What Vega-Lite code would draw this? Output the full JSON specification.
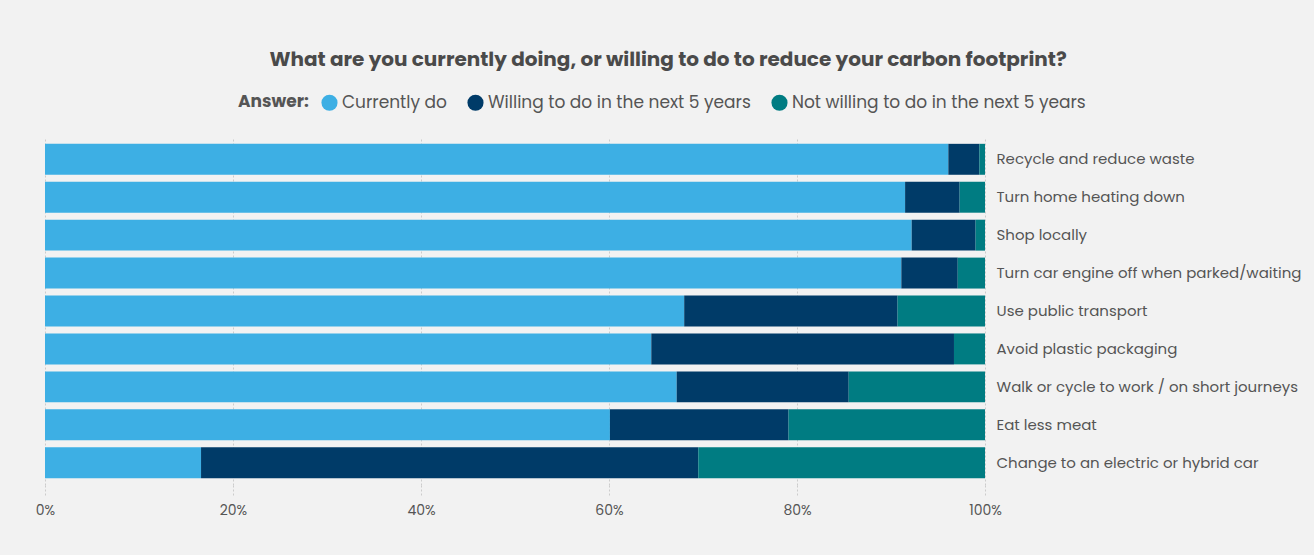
{
  "$schema": "https://vega.github.io/schema/vega-lite/v6.json",
  "autosize": {"type": "none"},
  "width": 940,
  "height": 348,
  "padding": {"left": 45, "top": 137, "right": 329, "bottom": 70},
  "background": "#f2f2f2",
  "title": {
    "text": "What are you currently doing, or willing to do to reduce your carbon footprint?",
    "anchor": "middle",
    "frame": "bounds",
    "font": "Poppins, Inter, sans-serif",
    "fontSize": 20,
    "fontWeight": "bold",
    "color": "#4a4a4a",
    "offset": 24
  },
  "data": {
    "values": [
      {"item": "Recycle and reduce waste", "answer": "Currently do", "o": 1, "value": 96.1},
      {"item": "Recycle and reduce waste", "answer": "Willing to do in the next 5 years", "o": 2, "value": 3.3},
      {"item": "Recycle and reduce waste", "answer": "Not willing to do in the next 5 years", "o": 3, "value": 0.6},
      {"item": "Turn home heating down", "answer": "Currently do", "o": 1, "value": 91.5},
      {"item": "Turn home heating down", "answer": "Willing to do in the next 5 years", "o": 2, "value": 5.8},
      {"item": "Turn home heating down", "answer": "Not willing to do in the next 5 years", "o": 3, "value": 2.7},
      {"item": "Shop locally", "answer": "Currently do", "o": 1, "value": 92.2},
      {"item": "Shop locally", "answer": "Willing to do in the next 5 years", "o": 2, "value": 6.8},
      {"item": "Shop locally", "answer": "Not willing to do in the next 5 years", "o": 3, "value": 1.0},
      {"item": "Turn car engine off when parked/waiting", "answer": "Currently do", "o": 1, "value": 91.1},
      {"item": "Turn car engine off when parked/waiting", "answer": "Willing to do in the next 5 years", "o": 2, "value": 6.0},
      {"item": "Turn car engine off when parked/waiting", "answer": "Not willing to do in the next 5 years", "o": 3, "value": 2.9},
      {"item": "Use public transport", "answer": "Currently do", "o": 1, "value": 68.0},
      {"item": "Use public transport", "answer": "Willing to do in the next 5 years", "o": 2, "value": 22.7},
      {"item": "Use public transport", "answer": "Not willing to do in the next 5 years", "o": 3, "value": 9.3},
      {"item": "Avoid plastic packaging", "answer": "Currently do", "o": 1, "value": 64.5},
      {"item": "Avoid plastic packaging", "answer": "Willing to do in the next 5 years", "o": 2, "value": 32.2},
      {"item": "Avoid plastic packaging", "answer": "Not willing to do in the next 5 years", "o": 3, "value": 3.3},
      {"item": "Walk or cycle to work / on short journeys", "answer": "Currently do", "o": 1, "value": 67.2},
      {"item": "Walk or cycle to work / on short journeys", "answer": "Willing to do in the next 5 years", "o": 2, "value": 18.3},
      {"item": "Walk or cycle to work / on short journeys", "answer": "Not willing to do in the next 5 years", "o": 3, "value": 14.5},
      {"item": "Eat less meat", "answer": "Currently do", "o": 1, "value": 60.1},
      {"item": "Eat less meat", "answer": "Willing to do in the next 5 years", "o": 2, "value": 19.0},
      {"item": "Eat less meat", "answer": "Not willing to do in the next 5 years", "o": 3, "value": 20.9},
      {"item": "Change to an electric or hybrid car", "answer": "Currently do", "o": 1, "value": 16.6},
      {"item": "Change to an electric or hybrid car", "answer": "Willing to do in the next 5 years", "o": 2, "value": 52.9},
      {"item": "Change to an electric or hybrid car", "answer": "Not willing to do in the next 5 years", "o": 3, "value": 30.5}
    ]
  },
  "mark": {"type": "bar"},
  "encoding": {
    "y": {
      "field": "item",
      "type": "nominal",
      "sort": null,
      "scale": {"paddingInner": 0.184, "paddingOuter": 0.18},
      "axis": {
        "orient": "right",
        "title": null,
        "domain": false,
        "ticks": false,
        "labelPadding": 11,
        "labelFont": "Poppins, Inter, sans-serif",
        "labelFontSize": 15,
        "labelColor": "#555555",
        "labelLimit": 400
      }
    },
    "x": {
      "field": "value",
      "type": "quantitative",
      "stack": "normalize",
      "scale": {"domain": [0, 1]},
      "axis": {
        "title": null,
        "format": ".0%",
        "values": [0, 0.2, 0.4, 0.6, 0.8, 1],
        "domain": false,
        "grid": true,
        "gridColor": "#cccccc",
        "gridDash": [2, 2],
        "gridWidth": 1,
        "ticks": true,
        "tickSize": 10,
        "tickColor": "#cccccc",
        "tickDash": [2, 2],
        "labelFlush": false,
        "labelPadding": 8,
        "labelFont": "Poppins, Inter, sans-serif",
        "labelFontSize": 14,
        "labelColor": "#555555"
      }
    },
    "color": {
      "field": "answer",
      "type": "nominal",
      "scale": {
        "domain": ["Currently do", "Willing to do in the next 5 years", "Not willing to do in the next 5 years"],
        "range": ["#3DAFE4", "#003B68", "#007C82"]
      },
      "legend": {
        "title": "Answer:",
        "orient": "none",
        "legendX": 193,
        "legendY": -43,
        "direction": "horizontal",
        "titleOrient": "left",
        "titleFont": "Poppins, Inter, sans-serif",
        "titleFontSize": 17,
        "titleFontWeight": "bold",
        "titleColor": "#555555",
        "titlePadding": 12,
        "labelFont": "Poppins, Inter, sans-serif",
        "labelFontSize": 17,
        "labelColor": "#555555",
        "labelOffset": 4,
        "symbolType": "circle",
        "symbolSize": 260,
        "symbolStrokeWidth": 0,
        "columnPadding": 20,
        "labelLimit": 400
      }
    },
    "order": {"field": "o", "type": "quantitative"}
  },
  "config": {"view": {"stroke": null}}
}
